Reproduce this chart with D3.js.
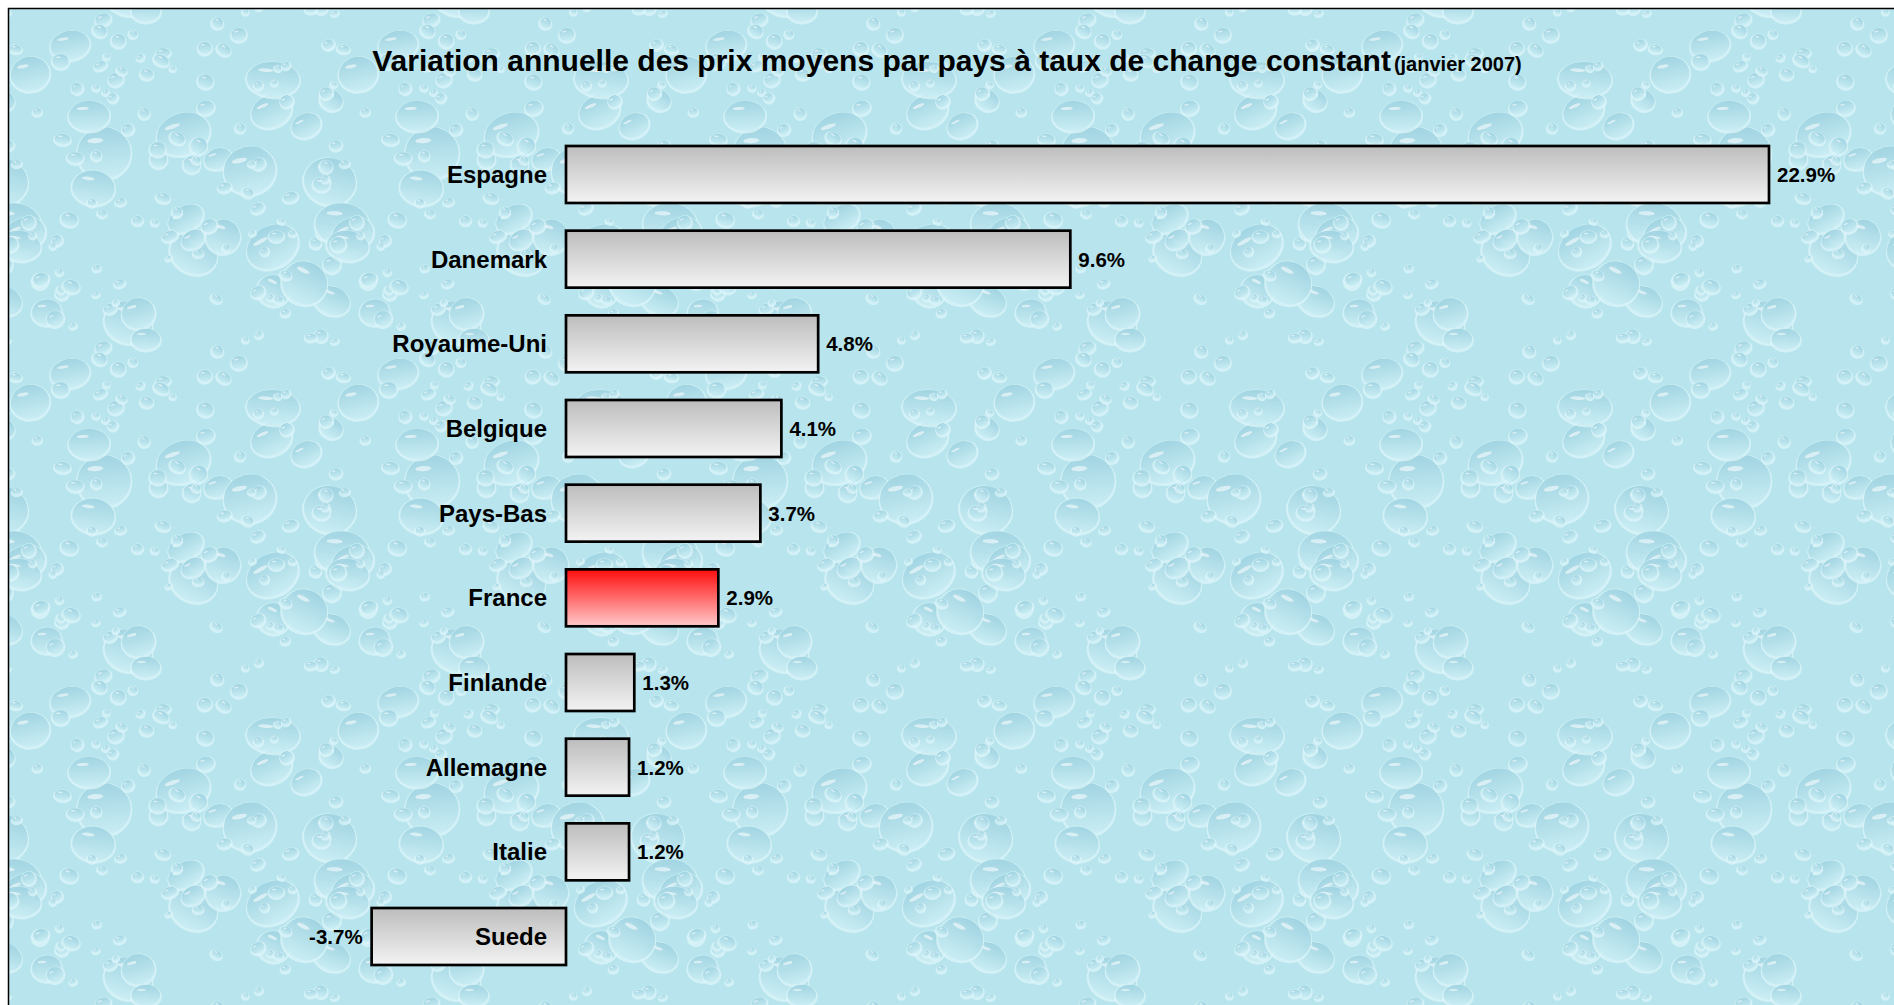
<!DOCTYPE html>
<html>
<head>
<meta charset="utf-8">
<script src="https://cdn.jsdelivr.net/npm/d3@7"></script>
<style>
  html, body { margin: 0; padding: 0; background: #fff; overflow: hidden; }
  text { font-family: "Liberation Sans", Arial, sans-serif; font-weight: bold; fill: #000; }
</style>
</head>
<body>
<div id="chart"></div>
<script>
// data
const PAYS = ["Espagne", "Danemark", "Royaume-Uni", "Belgique", "Pays-Bas",
              "France", "Finlande", "Allemagne", "Italie", "Suede"];
const VARIATION = [22.9, 9.6, 4.8, 4.1, 3.7, 2.9, 1.3, 1.2, 1.2, -3.7];
const HIGHLIGHT = "France";
const TITLE = "Variation annuelle des prix moyens par pays à taux de change constant";
const SUBTITLE = "(janvier 2007)";

const FRAME_WIDTH = 1894;
const FRAME_HEIGHT = 1005;
const ORIGIN = 9;     // where the framed area starts
const TILE = 328;     // size of the repeated background tile

const data = PAYS.map((p, i) => ({pays: p, v: VARIATION[i]}));

const svg = d3.select("#chart")
  .append("svg")
    .attr("width", FRAME_WIDTH)
    .attr("height", FRAME_HEIGHT);

const defs = svg.append("defs");

// grey and red bar gradients
const grey = defs.append("linearGradient")
    .attr("id", "grey").attr("x1", 0).attr("y1", 0).attr("x2", 0).attr("y2", 1);
grey.append("stop").attr("offset", "0%").attr("stop-color", "#bdbdbd");
grey.append("stop").attr("offset", "100%").attr("stop-color", "#f3f3f3");

const red = defs.append("linearGradient")
    .attr("id", "red").attr("x1", 0).attr("y1", 0).attr("x2", 0).attr("y2", 1);
red.append("stop").attr("offset", "0%").attr("stop-color", "#ff0d0d");
red.append("stop").attr("offset", "100%").attr("stop-color", "#ffcaca");

// water drop texture (decoration only)
const drop = defs.append("linearGradient")
    .attr("id", "drop").attr("x1", 0).attr("y1", 0).attr("x2", 0).attr("y2", 1);
drop.append("stop").attr("offset", "0%").attr("stop-color", "#86c5d7");
drop.append("stop").attr("offset", "100%").attr("stop-color", "#c4ebf2");

const pattern = defs.append("pattern")
    .attr("id", "water")
    .attr("patternUnits", "userSpaceOnUse")
    .attr("x", ORIGIN).attr("y", ORIGIN)
    .attr("width", TILE).attr("height", TILE);

pattern.append("rect").attr("width", TILE).attr("height", TILE).attr("fill", "#b8e5ed");

// deterministic scatter of drops in the tile
let seed = 4242;
function next() { seed = (seed * 16807) % 2147483647; return seed / 2147483647; }
const drops = [];
for (let i = 0; i < 140; i++) {
  const big = i < 28;
  const rx = big ? 11 + next() * 16 : 2.5 + next() * 6;
  drops.push({
    x: next() * TILE, y: next() * TILE,
    rx: rx, ry: rx * (0.6 + next() * 0.4),
    rot: -30 + next() * 60
  });
}
[-TILE, 0, TILE].forEach(ox => [-TILE, 0, TILE].forEach(oy => {
  const g = pattern.append("g").attr("transform", `translate(${ox},${oy})`);
  g.selectAll("g")
    .data(drops)
    .enter()
    .append("g")
      .attr("transform", d => `translate(${d.x},${d.y}) rotate(${d.rot})`)
      .each(function(d) {
        const s = d3.select(this);
        s.append("ellipse").attr("cy", 1.2).attr("rx", d.rx + 1.6).attr("ry", d.ry + 1.6)
          .attr("fill", "#dcf5f9").attr("opacity", 0.75);
        s.append("ellipse").attr("rx", d.rx).attr("ry", d.ry)
          .attr("fill", "url(#drop)").attr("opacity", 0.65);
        s.append("ellipse").attr("cx", -d.rx * 0.3).attr("cy", -d.ry * 0.5)
          .attr("rx", d.rx * 0.3).attr("ry", Math.max(0.8, d.ry * 0.1))
          .attr("fill", "#ffffff").attr("opacity", 0.55);
      });
}));

// background and frame line
svg.append("rect")
    .attr("x", ORIGIN).attr("y", ORIGIN)
    .attr("width", FRAME_WIDTH - ORIGIN).attr("height", FRAME_HEIGHT - ORIGIN)
    .attr("fill", "url(#water)");
svg.append("path")
    .attr("d", `M${ORIGIN - 0.5},${FRAME_HEIGHT} V${ORIGIN - 0.5} H${FRAME_WIDTH}`)
    .attr("fill", "none").attr("stroke", "#000").attr("stroke-width", 1.5);

// title
const title = svg.append("text")
    .attr("x", FRAME_WIDTH / 2).attr("y", 71)
    .attr("text-anchor", "middle");
title.append("tspan").attr("font-size", "30px").text(TITLE);
title.append("tspan").attr("font-size", "20px").attr("dx", 3).text(SUBTITLE);

// scales
const X_SCALE = d3.scaleLinear()
    .domain([0, 22.9])
    .range([566, 1769]);

const Y_SCALE = d3.scaleBand()
    .domain(PAYS)
    .range([146, 965])
    .paddingInner(0.327)
    .paddingOuter(0);

// bars
svg.append("g")
  .selectAll("rect")
  .data(data)
  .enter()
  .append("rect")
    .attr("x", d => X_SCALE(Math.min(0, d.v)))
    .attr("y", d => Y_SCALE(d.pays))
    .attr("width", d => Math.abs(X_SCALE(d.v) - X_SCALE(0)))
    .attr("height", Y_SCALE.bandwidth())
    .attr("fill", d => d.pays === HIGHLIGHT ? "url(#red)" : "url(#grey)")
    .attr("stroke", "#000")
    .attr("stroke-width", 2.7);

// category labels, left of the zero line
svg.append("g")
  .selectAll("text")
  .data(data)
  .enter()
  .append("text")
    .attr("x", X_SCALE(0) - 19)
    .attr("y", d => Y_SCALE(d.pays) + Y_SCALE.bandwidth() / 2)
    .attr("dy", "0.36em")
    .attr("text-anchor", "end")
    .attr("font-size", "24px")
    .text(d => d.pays);

// value labels at the end of each bar
svg.append("g")
  .selectAll("text")
  .data(data)
  .enter()
  .append("text")
    .attr("x", d => d.v >= 0 ? X_SCALE(d.v) + 8 : X_SCALE(d.v) - 9)
    .attr("y", d => Y_SCALE(d.pays) + Y_SCALE.bandwidth() / 2)
    .attr("dy", "0.36em")
    .attr("text-anchor", d => d.v >= 0 ? "start" : "end")
    .attr("font-size", "20.5px")
    .text(d => d.v.toFixed(1) + "%");
</script>
</body>
</html>
